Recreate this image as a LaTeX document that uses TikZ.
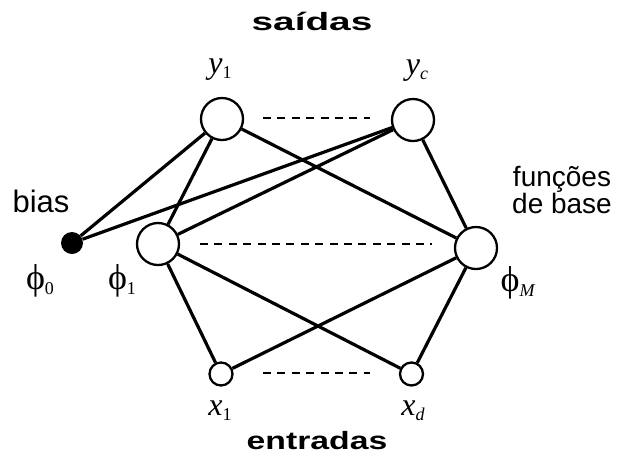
\documentclass[tikz,border=0pt]{standalone}
\usepackage{fontspec}
\setmainfont{Liberation Serif}
\setsansfont{Liberation Sans}
\newcommand\lab[2]{#1\raisebox{-5pt}{\fontsize{18}{18}\selectfont #2}}
\begin{document}
\begin{tikzpicture}[x=1pt,y=-1pt,
  unit/.style={circle,draw,line width=2.3pt,minimum size=42pt,inner sep=0pt},
  inunit/.style={circle,draw,line width=2.3pt,minimum size=23pt,inner sep=0pt},
  biasunit/.style={circle,fill=black,minimum size=22pt,inner sep=0pt},
  conn/.style={line width=3.2pt},
  dotsline/.style={line width=2.6pt,dash pattern=on 8pt off 6.4pt},
  lbl/.style={font=\fontsize{32}{32}\selectfont, inner sep=0pt},
  head/.style={font=\sffamily\bfseries\fontsize{25}{26}\selectfont, inner sep=0pt},
  side/.style={font=\sffamily\fontsize{28}{27}\selectfont, inner sep=0pt, align=center}
]
\useasboundingbox (0,0) rectangle (617,459);
% units
\node[unit] (y1) at (222,119) {};
\node[unit] (yc) at (413,120) {};
\node[biasunit] (b) at (72,243) {};
\node[unit] (p1) at (158,244) {};
\node[unit] (pM) at (476,248) {};
\node[inunit] (x1) at (221,374) {};
\node[inunit] (xd) at (411.5,374) {};
% connections
\draw[conn] (b) -- (y1);
\draw[conn] (b) -- (yc);
\draw[conn] (p1) -- (y1);
\draw[conn] (p1) -- (yc);
\draw[conn] (pM) -- (y1);
\draw[conn] (pM) -- (yc);
\draw[conn] (x1) -- (p1);
\draw[conn] (x1) -- (pM);
\draw[conn] (xd) -- (p1);
\draw[conn] (xd) -- (pM);
% dashed
\coordinate (d1a) at (263,118); \coordinate (d1b) at (370,118);
\coordinate (d2a) at (200,244); \coordinate (d2b) at (432,244);
\coordinate (d3a) at (263,373); \coordinate (d3b) at (370,373);
\draw[dotsline] (d1a) -- (d1b);
\draw[dotsline] (d2a) -- (d2b);
\draw[dotsline] (d3a) -- (d3b);
% labels
\node[head] (tsai) at (312,21) {\scalebox{1.55}[1]{saídas}};
\node[head] (tent) at (317,441) {\scalebox{1.35}[1]{entradas}};
\node[lbl] (ly1) at (220,70) {\lab{\textit{y}}{1}};
\node[lbl] (lyc) at (417,71) {\lab{\textit{y}}{\textit{c}}};
\node[lbl] (lx1) at (220,411) {\lab{\textit{x}}{1}};
\node[lbl] (lxd) at (413,411) {\lab{\textit{x}}{\textit{d}}};
\node[lbl, font=\fontsize{36}{36}\selectfont] (lp0) at (40,281) {\lab{ϕ}{0}};
\node[lbl, font=\fontsize{36}{36}\selectfont] (lp1) at (122,281) {\lab{ϕ}{1}};
\node[lbl, font=\fontsize{36}{36}\selectfont] (lpM) at (518,283) {\lab{ϕ}{\textit{M}}};
\node[side, font=\sffamily\fontsize{31}{31}\selectfont] (lbias) at (41,201) {bias};
\node[side] (lfun) at (562,190) {funções\\de base};
\end{tikzpicture}
\end{document}
